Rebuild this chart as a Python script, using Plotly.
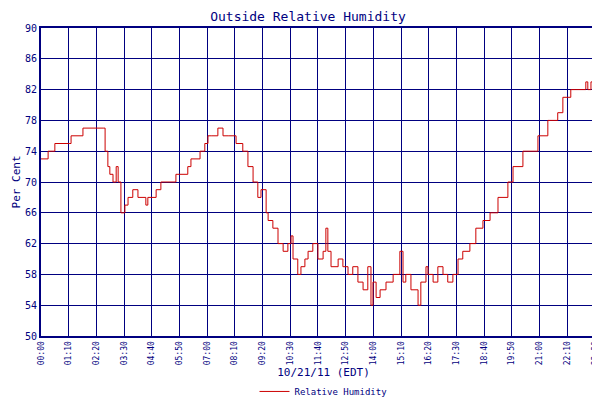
import plotly.graph_objects as go

minutes = [0, 18, 35, 73, 76, 106, 157, 162, 169, 174, 182, 190, 195, 202, 212, 220, 232, 245,
           265, 270, 291, 303, 321, 341, 351, 371, 379, 402, 414, 422, 430, 447, 460, 473,
           493, 510, 523, 536, 548, 556, 569, 574, 586, 599, 612, 624, 632, 637, 649, 657,
           667, 675, 687, 700, 713, 720, 725, 733, 751, 763, 776, 788, 801, 814, 826, 834,
           839, 847, 857, 872, 890, 907, 915, 922, 935, 953, 960, 973, 978, 991, 1003, 1016,
           1028, 1041, 1054, 1066, 1084, 1099, 1117, 1135, 1155, 1180, 1193, 1218, 1256,
           1281, 1306, 1319, 1339, 1352, 1377, 1382, 1390, 1408, 1428]
humidity = [73, 74, 75, 75, 76, 77, 77, 74, 72, 71, 70, 72, 70, 66, 67, 68, 69, 68,
            67, 68, 69, 70, 70, 71, 71, 72, 73, 74, 75, 76, 76, 77, 76, 76,
            75, 74, 72, 70, 68, 69, 66, 65, 64, 62, 61, 62, 63, 60, 58, 59,
            60, 61, 62, 60, 61, 64, 61, 59, 60, 59, 58, 59, 57, 56, 59, 54,
            57, 55, 56, 57, 58, 61, 57, 58, 56, 54, 57, 59, 58, 57, 59, 58,
            57, 58, 60, 61, 62, 64, 65, 66, 68, 70, 72, 74, 76,
            78, 79, 81, 82, 82, 83, 82, 83, 83, 83]
tick_vals = list(range(0, 1428, 70)) + [1428]
tick_text = ["%02d:%02d" % (m // 60, m % 60) for m in tick_vals]

navy = "#000080"
fig = go.Figure()
fig.add_trace(go.Scatter(x=minutes, y=humidity, mode="lines", line_shape="hv",
                         line=dict(color="#cc0000", width=1), name="Relative Humidity"))

fig.update_layout(
    width=600, height=400, plot_bgcolor="white", paper_bgcolor="white",
    margin=dict(l=33, r=2, t=20, b=63),
    font=dict(family="DejaVu Sans Mono", size=10, color=navy),
    title=dict(text="Outside Relative Humidity", x=0.5, y=0.99, yanchor="top",
               font=dict(size=13, color=navy), automargin=False),
    showlegend=True,
    legend=dict(orientation="h", x=0.5, xanchor="center", y=-0.18, yanchor="middle",
                font=dict(size=9, color=navy)),
)
fig.update_xaxes(range=[0, 1428], tickvals=tick_vals, ticktext=tick_text, tickangle=-90,
                 showgrid=True, gridcolor=navy, gridwidth=1, showline=True, linecolor=navy,
                 linewidth=2, mirror=True, tickfont=dict(size=8), automargin=False,
                 title=dict(text="10/21/11 (EDT)", standoff=4, font=dict(size=11)))
fig.update_yaxes(range=[50, 90], tick0=50, dtick=4, showgrid=True, gridcolor=navy, gridwidth=1,
                 showline=True, linecolor=navy, linewidth=2, mirror=True, zeroline=False,
                 automargin=False, tickfont=dict(size=10),
                 title=dict(text="Per Cent", standoff=2, font=dict(size=11)))

fig.write_html("out.html")
